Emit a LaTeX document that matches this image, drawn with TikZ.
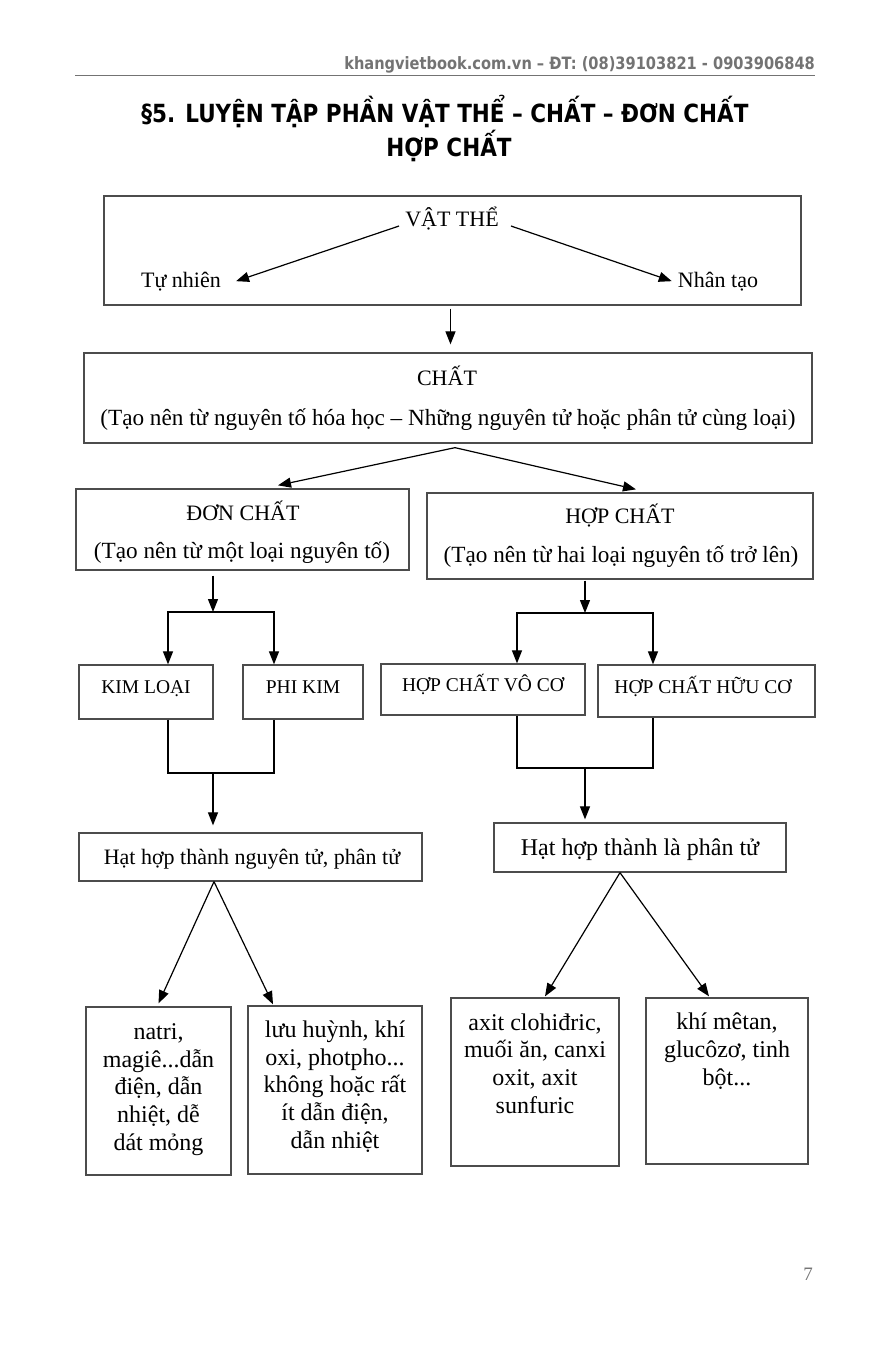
\documentclass[tikz,border=0pt]{standalone}
\usepackage{fontspec}
\setmainfont{Liberation Serif}
\newfontfamily\tieude[FakeStretch=0.86]{DejaVu Sans}
\usetikzlibrary{arrows.meta}
\tikzset{
  khung/.style={draw=black!70, line width=1.3pt, inner sep=0pt},
  muiten/.style={-{Triangle[length=13pt,width=10pt]}, line width=1.2pt},
  noi/.style={line width=1.2pt},
  chu/.style={font=\fontsize{22}{28}\selectfont, inner sep=0pt, anchor=base},
  chuphu/.style={font=\fontsize{23.2}{28}\selectfont, inner sep=0pt, anchor=base},
  chunho/.style={font=\fontsize{19.5}{24}\selectfont, inner sep=0pt, anchor=base},
  chuo/.style={font=\fontsize{24}{27.6}\selectfont, align=center, inner sep=0pt, anchor=base},
}

\begin{document}
\begin{tikzpicture}[x=1pt,y=-1pt]
    \useasboundingbox (0,0) rectangle (892,1352);
    % dau trang
    \node[anchor=base east, inner sep=0pt, text=black!55, font=\tieude\bfseries\fontsize{17}{18}\selectfont] (web) at (815,69) {khangvietbook.com.vn – ĐT: (08)39103821 - 0903906848};
    \draw[black!55, line width=0.8pt] (75,75) -- (815,75); % gach ngang
    \node[anchor=base, inner sep=0pt, font=\tieude\bfseries\fontsize{25}{26}\selectfont] (tde1) at (445,122) {§5. LUYỆN TẬP PHẦN VẬT THỂ – CHẤT – ĐƠN CHẤT};
    \node[anchor=base, inner sep=0pt, font=\tieude\bfseries\fontsize{25}{26}\selectfont] (tde2) at (449,156) {HỢP CHẤT};

    % vat the
    \node[khung, minimum width=697, minimum height=109] (vatthe) at (452.5,250.5) {};
    \node[chu] (tvt) at (452,226) {VẬT THỂ};
    \node[chu] (tunhien) at (181,287) {Tự nhiên};
    \node[chu] (nhantao) at (718,287) {Nhân tạo};
    \draw[muiten] ([xshift=-6pt]tvt.base west) -- ([xshift=15pt]tunhien.east);
    \draw[muiten] ([xshift=12pt]tvt.base east) -- ([xshift=-6pt]nhantao.west);

    % chat
    \node[khung, minimum width=728, minimum height=90] (chat) at (448,398) {};
    \node[chu] (tchat) at (447,385) {CHẤT};
    \node[chuphu] (tchat2) at (448,425) {(Tạo nên từ nguyên tố hóa học – Những nguyên tử hoặc phân tử cùng loại)};
    \draw[muiten, shorten <=3pt, shorten >=8pt] ([xshift=-2pt]vatthe.south) -- ([xshift=-2pt]vatthe.south |- chat.north);

    % don chat, hop chat
    \node[khung, minimum width=333, minimum height=81] (donchat) at (242.5,529.5) {};
    \node[chu] (tdon) at (243,520) {ĐƠN CHẤT};
    \node[chuphu] (tdon2) at (242,558) {(Tạo nên từ một loại nguyên tố)};
    \node[khung, minimum width=386, minimum height=86] (hopchat) at (620,536) {};
    \node[chu] (thop) at (620,523) {HỢP CHẤT};
    \node[chuphu] (thop2) at (621,562) {(Tạo nên từ hai loại nguyên tố trở lên)};
    \draw[muiten] ([xshift=7pt,yshift=-4pt]chat.south) -- ([xshift=35.5pt,yshift=3pt]donchat.north);
    \draw[muiten] ([xshift=7pt,yshift=-4pt]chat.south) -- ([xshift=16pt,yshift=3pt]hopchat.north);

    % nhanh trai
    \node[khung, minimum width=134, minimum height=54] (kimloai) at (146,692) {};
    \node[chunho] (tkl) at (146,693) {KIM LOẠI};
    \node[khung, minimum width=120, minimum height=54] (phikim) at (303,692) {};
    \node[chunho] (tpk) at (303,693) {PHI KIM};
    \coordinate (nhanhT) at (213,612);
    \draw[muiten, shorten <=5pt] (donchat.south -| nhanhT) -- (nhanhT);
    \draw[muiten] (nhanhT) -| ([xshift=22pt]kimloai.north);
    \draw[muiten] (nhanhT) -| ([xshift=-29pt]phikim.north);
    \coordinate (gopT) at (213,773);
    \draw[noi] ([xshift=22pt]kimloai.south) |- (gopT) -| ([xshift=-29pt]phikim.south);
    \node[khung, minimum width=343, minimum height=48] (hat1) at (250.5,857) {};
    \node[chu] (that1) at (252,864) {Hạt hợp thành nguyên tử, phân tử};
    \draw[muiten, shorten >=7pt] (gopT) -- (hat1.north -| gopT);

    % nhanh phai
    \node[khung, minimum width=204, minimum height=51] (hcvc) at (483,689.5) {};
    \node[chunho] (tvc) at (483,691) {HỢP CHẤT VÔ CƠ};
    \node[khung, minimum width=217, minimum height=52] (hchc) at (706.5,691) {};
    \node[chunho] (thc) at (703,693) {HỢP CHẤT HỮU CƠ};
    \coordinate (nhanhP) at (585,613);
    \draw[muiten, shorten <=1pt] (hopchat.south -| nhanhP) -- (nhanhP);
    \draw[muiten] (nhanhP) -| ([xshift=34pt]hcvc.north);
    \draw[muiten] (nhanhP) -| ([xshift=-53.5pt]hchc.north);
    \coordinate (gopP) at (585,768);
    \draw[noi] ([xshift=34pt]hcvc.south) |- (gopP) -| ([xshift=-53.5pt]hchc.south);
    \node[khung, minimum width=292, minimum height=49] (hat2) at (640,847.5) {};
    \node[chu, font=\fontsize{24}{26}\selectfont] (that2) at (640,855) {Hạt hợp thành là phân tử};
    \draw[muiten, shorten >=3pt] (gopP) -- (hat2.north -| gopP);

    % vi du (moc base = dong cuoi)
    \node[khung, minimum width=145, minimum height=168] (b1) at (158.5,1091) {};
    \node[chuo] (tb1) at (158.5,1150) {natri,\\magiê...dẫn\\điện, dẫn\\nhiệt, dễ\\dát mỏng};
    \node[khung, minimum width=174, minimum height=168] (b2) at (335,1090) {};
    \node[chuo] (tb2) at (335,1148) {lưu huỳnh, khí\\oxi, photpho...\\không hoặc rất\\ít dẫn điện,\\dẫn nhiệt};
    \node[khung, minimum width=168, minimum height=168] (b3) at (535,1082) {};
    \node[chuo] (tb3) at (535,1113) {axit clohiđric,\\muối ăn, canxi\\oxit, axit\\sunfuric};
    \node[khung, minimum width=162, minimum height=166] (b4) at (727,1081) {};
    \node[chuo] (tb4) at (727,1085) {khí mêtan,\\glucôzơ, tinh\\bột...};
    \draw[muiten] ([xshift=-36.5pt]hat1.south) -- ([yshift=3pt]b1.north);
    \draw[muiten] ([xshift=-36.5pt]hat1.south) -- ([xshift=-62pt,yshift=1pt]b2.north);
    \draw[muiten] ([xshift=-20pt]hat2.south) -- ([xshift=10pt,yshift=1pt]b3.north);
    \draw[muiten] ([xshift=-20pt]hat2.south) -- ([xshift=-18pt,yshift=1pt]b4.north);

    \node[anchor=base, inner sep=0pt, text=black!55, font=\fontsize{19}{20}\selectfont] (trang) at (808,1280) {7}; % so trang
\end{tikzpicture}
\end{document}
